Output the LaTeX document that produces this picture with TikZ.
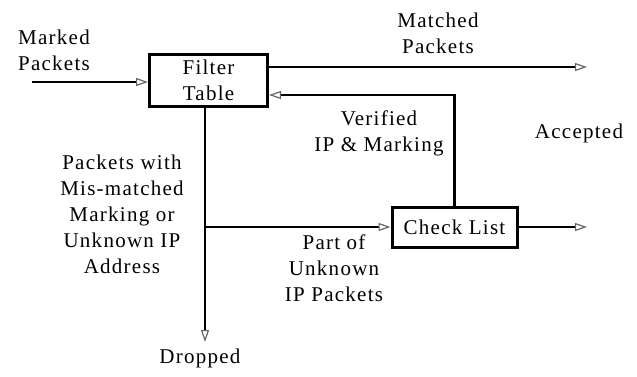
\documentclass[tikz,border=0pt]{standalone}
\usepackage{fontspec}
\setmainfont{Liberation Serif}[LetterSpace=6]
\usetikzlibrary{arrows.meta}
\begin{document}
\begin{tikzpicture}[x=1pt,y=-1pt,
  box/.style={draw, line width=3pt, fill=white, font=\fontsize{21}{26}\selectfont, align=center, inner sep=0pt},
  lbl/.style={font=\fontsize{21}{26}\selectfont, align=center, inner sep=0pt},
  conn/.style={line width=2.2pt},
  arr/.style={conn, -{Triangle[open, length=12pt, width=8pt, color=black!60, line width=1.2pt]}}]
\useasboundingbox (0,0) rectangle (637,376);
\node[box, minimum width=118pt, minimum height=52pt] (ft) at (208.5,80) {Filter\\Table};
\node[box, minimum width=125pt, minimum height=40pt] (cl) at (454.5,227) {Check List};
\coordinate (in) at (32,82);
\coordinate (m) at (587,67);
\coordinate (r) at (0,95);
\coordinate (d) at (205,342);
\coordinate (j) at (205,227);
\coordinate (o) at (587,227);
\draw[arr] (in) -- (in -| ft.west);
\draw[arr] (m -| ft.east) -- (m);
\draw[arr] (cl.north) |- (r -| ft.east);
\draw[arr] (d |- ft.south) -- (d);
\draw[arr] (j) -- (cl.west);
\draw[arr] (cl.east) -- (o);
\node[lbl] (t1) at (54,50) {Marked\\Packets};
\node[lbl] (t2) at (438,33) {Matched\\Packets};
\node[lbl] (t3) at (379,133) {Verified\\IP \& Marking};
\node[lbl] (t4) at (579,133) {Accepted};
\node[lbl] (t5) at (122,214) {Packets with\\Mis-matched\\Marking or\\Unknown IP\\Address};
\node[lbl] (t6) at (334,268) {Part of\\Unknown\\IP Packets};
\node[lbl] (t7) at (200,358) {Dropped};
\end{tikzpicture}
\end{document}
